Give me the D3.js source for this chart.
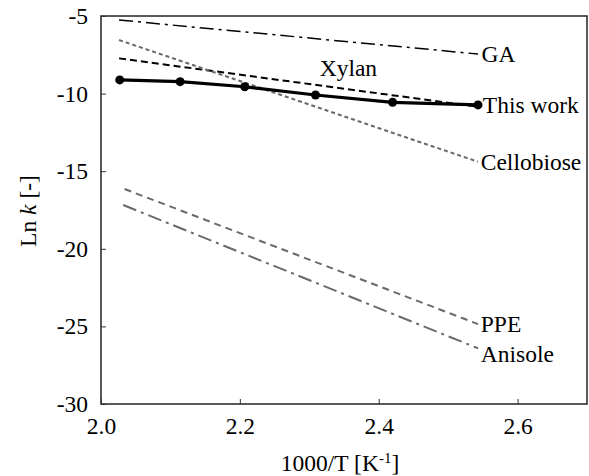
<!DOCTYPE html>
<html>
<head>
<meta charset="utf-8">
<script src="https://cdn.jsdelivr.net/npm/d3@7"></script>
<style>
  body { margin: 0; background: #fff; }
  svg { display: block; }
  text { font-family: "Liberation Serif", "Times New Roman", serif; fill: #000; }
</style>
</head>
<body>
<div id="chart"></div>
<script>
// measured points of this work
const thisWorkX = [2.027, 2.114, 2.207, 2.309, 2.420, 2.543];
const thisWorkY = [-9.12, -9.23, -9.56, -10.09, -10.56, -10.73];

// literature lines (start and end values)
const litNames = ['GA', 'Xylan', 'Cellobiose', 'PPE', 'Anisole'];
const litX = [[2.026, 2.543], [2.026, 2.543], [2.026, 2.543], [2.034, 2.543], [2.032, 2.543]];
const litY = [[-5.26, -7.45], [-7.73, -10.85], [-6.55, -14.39], [-16.15, -24.85], [-17.18, -26.41]];

const xTicks = [2.0, 2.2, 2.4, 2.6];
const yTicks = [-5, -10, -15, -20, -25, -30];

const W = 589, H = 476;
const margin = {top: 16, right: 2, bottom: 72, left: 101};
const width = W - margin.left - margin.right;
const height = H - margin.top - margin.bottom;
const fontSize = '23.5px';
const serif = 'Liberation Serif';

const svg = d3.select('#chart').append('svg')
    .attr('width', W)
    .attr('height', H);

const g = svg.append('g')
    .attr('transform', `translate(${margin.left},${margin.top})`);

const x = d3.scaleLinear().domain([2.0, 2.7]).range([0, width]);
const y = d3.scaleLinear().domain([-30, -5]).range([height, 0]);

// frame
g.append('rect')
    .attr('width', width)
    .attr('height', height)
    .attr('fill', 'none')
    .attr('stroke', '#222')
    .attr('stroke-width', 1.5);

g.append('g')
    .attr('transform', `translate(0,${height})`)
    .call(d3.axisBottom(x).tickValues(xTicks).tickSizeInner(-5).tickSizeOuter(0).tickPadding(13).tickFormat(d3.format('.1f')))
    .attr('font-family', serif)
    .attr('font-size', fontSize)
    .call(a => a.select('.domain').remove())
    .call(a => a.selectAll('line').attr('stroke', '#333'));

g.append('g')
    .call(d3.axisLeft(y).tickValues(yTicks).tickSizeInner(-5).tickSizeOuter(0).tickPadding(13).tickFormat(d => String(d)))
    .attr('font-family', serif)
    .attr('font-size', fontSize)
    .call(a => a.select('.domain').remove())
    .call(a => a.selectAll('line').attr('stroke', '#333'));

// literature lines
const litStyle = {
    'GA':        {color: '#000', dash: '14,5,3,5', w: 1.5},
    'Xylan':     {color: '#000', dash: '7,4', w: 2},
    'Cellobiose':{color: '#6a6a6a', dash: '4,3', w: 2},
    'PPE':       {color: '#6a6a6a', dash: '7,5', w: 2},
    'Anisole':   {color: '#6a6a6a', dash: '14,5,3,5', w: 2}
};

const line = d3.line().x(d => x(d[0])).y(d => y(d[1]));

litNames.forEach((name, i) => {
    const pts = litX[i].map((v, j) => [v, litY[i][j]]);
    const s = litStyle[name];
    g.append('path')
        .attr('d', line(pts))
        .attr('fill', 'none')
        .attr('stroke', s.color)
        .attr('stroke-width', s.w)
        .attr('stroke-dasharray', s.dash);
});

// this work
const twPts = thisWorkX.map((v, i) => [v, thisWorkY[i]]);
g.append('path')
    .attr('d', line(twPts))
    .attr('fill', 'none')
    .attr('stroke', '#000')
    .attr('stroke-width', 3.2);

g.selectAll('.pt')
    .data(twPts)
    .enter()
    .append('circle')
    .attr('cx', d => x(d[0]))
    .attr('cy', d => y(d[1]))
    .attr('r', 4.5)
    .attr('fill', '#000');

// labels
const endLabels = [
    {text: 'GA', xv: 2.548, yv: -7.45},
    {text: 'This work', xv: 2.550, yv: -10.73},
    {text: 'Cellobiose', xv: 2.547, yv: -14.39},
    {text: 'PPE', xv: 2.547, yv: -24.85},
    {text: 'Anisole', xv: 2.547, yv: -26.75}
];
endLabels.forEach(l => {
    g.append('text')
        .attr('x', x(l.xv))
        .attr('y', y(l.yv))
        .attr('dy', '0.35em')
        .style('font-size', fontSize)
        .text(l.text);
});

g.append('text')
    .attr('x', x(2.315))
    .attr('y', y(-8.35))
    .attr('dy', '0.35em')
    .style('font-size', fontSize)
    .text('Xylan');

// axis titles
const xt = svg.append('text')
    .attr('x', margin.left + width / 2 - 4)
    .attr('y', H - 5)
    .attr('text-anchor', 'middle')
    .style('font-size', fontSize);
xt.append('tspan').text('1000/T [K');
xt.append('tspan').attr('baseline-shift', 'super').style('font-size', '15px').text('-1');
xt.append('tspan').text(']');

const yt = svg.append('text')
    .attr('transform', `translate(36,${margin.top + height / 2 + 1}) rotate(-90)`)
    .attr('text-anchor', 'middle')
    .style('font-size', fontSize);
yt.append('tspan').text('Ln ');
yt.append('tspan').style('font-style', 'italic').text('k');
yt.append('tspan').text(' [-]');
</script>
</body>
</html>
